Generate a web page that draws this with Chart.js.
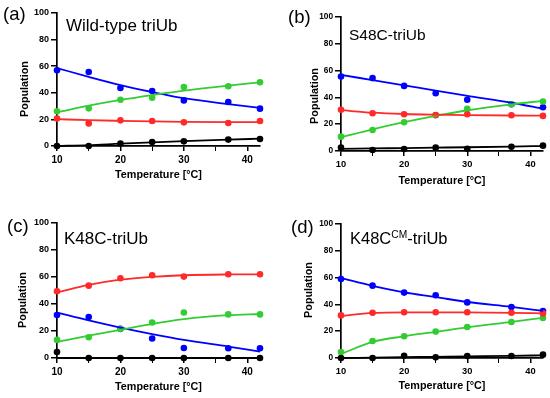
<!DOCTYPE html>
<html>
<head>
<meta charset="utf-8">
<script src="https://cdn.jsdelivr.net/npm/chart.js@4"></script>
<style>
  body { margin: 0; background: #fff; }
  #wrap { position: relative; width: 550px; height: 398px; }
  .cell { position: absolute; width: 275px; height: 199px; }
</style>
</head>
<body>
<div id="wrap">
  <div class="cell" style="left:0;top:0"><canvas id="chartA"></canvas></div>
  <div class="cell" style="left:275px;top:0"><canvas id="chartB"></canvas></div>
  <div class="cell" style="left:0;top:199px"><canvas id="chartC"></canvas></div>
  <div class="cell" style="left:275px;top:199px"><canvas id="chartD"></canvas></div>
</div>
<script>
// temperatures (°C) of the measured points and of the read-off fit curves
const temps = [10, 15, 20, 25, 30, 37, 42];
const xTicks = [10, 15, 20, 25, 30, 35, 40];
const yTicks = [0, 20, 40, 60, 80, 100];

// (a) Wild-type triUb
const wtBlue = [56.9, 55.6, 43.6, 41.4, 34.3, 33.1, 28.1];
const wtGreen = [26.1, 28.3, 34.8, 36.3, 44.4, 44.9, 47.9];
const wtRed = [20.6, 17.0, 19.3, 18.8, 17.8, 17.3, 18.8];
const wtBlack = [0, 0, 1.8, 3.0, 3.5, 4.8, 5.3];
const wtBlueFit = [58.6, 52.0, 45.8, 40.6, 36.0, 31.5, 28.6];
const wtGreenFit = [25.3, 30.3, 34.6, 38.3, 41.6, 45.4, 47.8];
const wtRedFit = [20.2, 19.4, 18.9, 18.5, 18.2, 18.0, 18.0];
const wtBlackFit = [0, 0.6, 1.8, 2.8, 3.7, 4.8, 5.5];

// (b) S48C-triUb
const s48Blue = [55.6, 54.4, 48.6, 43.1, 38.2, 34.9, 32.7];
const s48Green = [10.7, 15.7, 21.4, 26.7, 31.4, 34.9, 36.9];
const s48Red = [30.7, 28.2, 27.4, 26.9, 27.4, 26.7, 26.2];
const s48Black = [2.5, 0.7, 1.5, 2.5, 1.7, 3.2, 4.0];
const s48BlueFit = [56.8, 52.9, 49.0, 45.0, 41.2, 36.0, 31.6];
const s48GreenFit = [10.2, 16.2, 21.5, 26.2, 30.4, 34.8, 37.4];
const s48RedFit = [30.5, 28.6, 27.6, 27.1, 26.8, 26.5, 26.4];
const s48BlackFit = [1.6, 1.9, 2.2, 2.5, 2.8, 3.3, 3.7];

// (c) K48C-triUb
const k48Blue = [31.8, 30.3, 21.6, 14.4, 7.4, 7.2, 7.2];
const k48Green = [13.4, 15.4, 21.6, 26.3, 33.7, 32.3, 32.3];
const k48Red = [49.4, 53.6, 59.1, 61.3, 60.3, 62.0, 62.0];
const k48Black = [4.5, 0, 0, 0, 0, 0, 0];
const k48BlueFit = [33.7, 27.8, 22.5, 17.7, 13.4, 8.5, 4.8];
const k48GreenFit = [11.9, 16.6, 20.9, 25.3, 28.8, 31.7, 32.6];
const k48RedFit = [48.6, 54.1, 58.0, 60.1, 61.3, 61.9, 62.0];
const k48BlackFit = [0, 0, 0, 0, 0, 0, 0];

// (d) K48C^CM-triUb
const cmBlue = [59.0, 54.0, 48.8, 46.8, 41.5, 38.1, 35.1];
const cmGreen = [4.5, 12.7, 16.2, 19.7, 23.1, 26.9, 29.9];
const cmRed = [31.8, 33.8, 34.1, 34.1, 34.1, 33.8, 33.3];
const cmBlack = [0, 0, 1.7, 0.5, 1.5, 1.5, 2.5];
const cmBlueFit = [59.7, 53.9, 49.0, 45.5, 41.8, 38.1, 35.1];
const cmGreenFit = [3.0, 12.0, 16.2, 19.5, 22.9, 27.0, 30.0];
const cmRedFit = [31.3, 33.6, 34.1, 34.1, 34.0, 33.7, 33.3];
const cmBlackFit = [0.0, 0.3, 0.6, 0.9, 1.2, 1.6, 2.0];

const BLUE = '#0000ff', GREEN = '#33cc33', RED = '#ff2a2a', BLACK = '#000000';
const FONT = "'Liberation Sans', Arial, sans-serif";

const xy = (arr) => temps.map((t, i) => ({ x: t, y: arr[i] }));

const pointSet = (arr, color) => ({
  data: xy(arr), showLine: false, pointRadius: 3.3, pointBorderWidth: 0,
  pointBackgroundColor: color, borderColor: color, clip: false
});
const fitSet = (arr, color) => ({
  data: xy(arr), showLine: true, pointRadius: 0, borderWidth: 1.8,
  borderColor: color, cubicInterpolationMode: 'monotone', clip: false
});

// panel-level text (letter, name, y title) drawn on top of the chart
const panelText = {
  id: 'panelText',
  afterDraw(chart) {
    const p = chart.options.plugins.panelText;
    const ctx = chart.ctx;
    ctx.save();
    ctx.fillStyle = '#000';
    ctx.textBaseline = 'middle';
    ctx.textAlign = 'left';
    ctx.font = '18.5px ' + FONT;
    ctx.fillText(p.letter, p.letterX, p.letterY);

    ctx.textBaseline = 'alphabetic';
    let x = p.nameX;
    p.name.forEach(part => {
      const size = part.sup ? p.nameSize * 0.62 : p.nameSize;
      ctx.font = size + 'px ' + FONT;
      ctx.fillText(part.t, x, p.nameY - (part.sup ? p.nameSize * 0.36 : 0));
      x += ctx.measureText(part.t).width;
    });

    ctx.translate(p.popX, p.popY);
    ctx.rotate(-Math.PI / 2);
    ctx.textAlign = 'center';
    ctx.textBaseline = 'middle';
    ctx.font = 'bold 10.8px ' + FONT;
    ctx.fillText('Population', 0, 0);
    ctx.restore();
  }
};

function makePanel(id, series, geo, text) {
  const yW = 30;
  const datasets = [
    fitSet(series[3][1], BLACK), fitSet(series[2][1], RED),
    fitSet(series[1][1], GREEN), fitSet(series[0][1], BLUE),
    pointSet(series[3][0], BLACK), pointSet(series[2][0], RED),
    pointSet(series[1][0], GREEN), pointSet(series[0][0], BLUE)
  ];
  new Chart(document.getElementById(id), {
    type: 'line',
    data: { datasets },
    plugins: [panelText],
    options: {
      responsive: true,
      maintainAspectRatio: false,
      animation: false,
      layout: {
        padding: { left: geo.left - yW, top: geo.top, right: 275 - geo.right, bottom: geo.padBottom }
      },
      plugins: { legend: { display: false }, tooltip: { enabled: false }, panelText: text },
      scales: {
        x: {
          type: 'linear', min: 10, max: 42,
          afterBuildTicks: (s) => { s.ticks = xTicks.map(v => ({ value: v })); },
          afterFit: (s) => { s.height = geo.xH; },
          ticks: {
            autoSkip: false, maxRotation: 0, color: '#000', padding: 3,
            font: { family: FONT, size: geo.tickSize + 1, weight: 'bold' },
            callback: (v) => (v % 10 === 0 ? v : '')
          },
          grid: {
            drawOnChartArea: false, tickLength: 5, color: '#000',
            lineWidth: (c) => (c.tick && c.tick.value % 10 === 0 ? 1.5 : 1)
          },
          border: { color: '#000', width: 1.7 },
          title: {
            display: true, text: 'Temperature [°C]', color: '#000', padding: 0,
            font: { family: FONT, size: 10.8, weight: 'bold' }
          }
        },
        y: {
          min: 0, max: 100,
          afterBuildTicks: (s) => { s.ticks = yTicks.map(v => ({ value: v })); },
          afterFit: (s) => { s.width = yW; },
          ticks: {
            color: '#000', padding: 2,
            font: { family: FONT, size: geo.tickSize, weight: 'bold' }
          },
          grid: { drawOnChartArea: false, tickLength: 6, color: '#000', lineWidth: 1.5 },
          border: { color: '#000', width: 1.7 }
        }
      }
    }
  });
}

makePanel('chartA',
  [[wtBlue, wtBlueFit], [wtGreen, wtGreenFit], [wtRed, wtRedFit], [wtBlack, wtBlackFit]],
  { left: 57, top: 13, right: 260, padBottom: 17, xH: 36, tickSize: 9 },
  { letter: '(a)', letterX: 3, letterY: 15, name: [{ t: 'Wild-type triUb' }], nameX: 66, nameY: 31, nameSize: 17, popX: 25, popY: 89 });

makePanel('chartB',
  [[s48Blue, s48BlueFit], [s48Green, s48GreenFit], [s48Red, s48RedFit], [s48Black, s48BlackFit]],
  { left: 66, top: 17, right: 268, padBottom: 11, xH: 37, tickSize: 8.3 },
  { letter: '(b)', letterX: 13, letterY: 18, name: [{ t: 'S48C-triUb' }], nameX: 74, nameY: 40, nameSize: 15.5, popX: 40, popY: 96 });

makePanel('chartC',
  [[k48Blue, k48BlueFit], [k48Green, k48GreenFit], [k48Red, k48RedFit], [k48Black, k48BlackFit]],
  { left: 57, top: 24, right: 260, padBottom: 4, xH: 36, tickSize: 9 },
  { letter: '(c)', letterX: 7, letterY: 27.5, name: [{ t: 'K48C-triUb' }], nameX: 64, nameY: 45, nameSize: 17, popX: 23, popY: 101 });

makePanel('chartD',
  [[cmBlue, cmBlueFit], [cmGreen, cmGreenFit], [cmRed, cmRedFit], [cmBlack, cmBlackFit]],
  { left: 66, top: 25, right: 268, padBottom: 5, xH: 35, tickSize: 8.3 },
  { letter: '(d)', letterX: 16, letterY: 29, name: [{ t: 'K48C' }, { t: 'CM', sup: true }, { t: '-triUb' }], nameX: 75, nameY: 45, nameSize: 16.5, popX: 34, popY: 91 });
</script>
</body>
</html>
